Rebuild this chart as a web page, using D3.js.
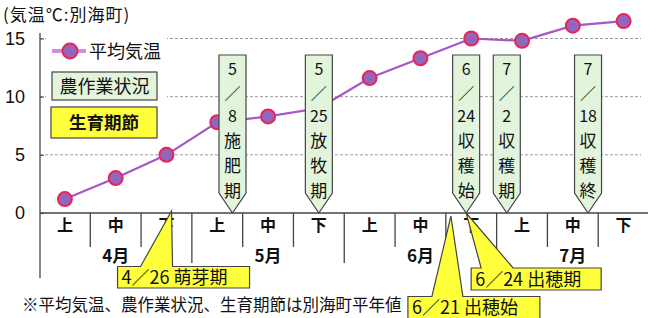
<!DOCTYPE html>
<html><head><meta charset="utf-8">
<script src="https://cdn.jsdelivr.net/npm/d3@7"></script>
<style>
html,body{margin:0;padding:0;background:#fff;}
svg{display:block;font-family:"Liberation Sans","Noto Sans CJK JP",sans-serif;}
.jp{font-family:"Noto Sans CJK JP","Liberation Sans",sans-serif;}
</style></head>
<body><svg id="c" width="648" height="318"></svg>
<script>
const months = ["4月","5月","6月","7月"];
const decades = ["上","中","下"];
const temps = [1.2, 3.0, 5.0, 7.8, 8.3, 9.0, 11.6, 13.3, 15.0, 14.8, 16.1, 16.5];
const yTicks = [0, 5, 10, 15];
const workDates = ["5/8", "5/25", "6/24", "7/2", "7/18"];
const workLabels = ["施肥期", "放牧期", "収穫始", "収穫期", "収穫終"];
const growthDates = ["4/26", "6/21", "6/24"];
const growthLabels = ["萌芽期", "出穂始", "出穂期"];

const cats = [];
months.forEach(m => decades.forEach(d => cats.push(m + d)));

const svg = d3.select("#c");
const x = d3.scaleBand().domain(cats).range([39.5, 649]).padding(0);
const y = d3.scaleLinear().domain([0, 15]).range([213, 38.5]);
const bw = x.bandwidth();

function dateX(s) {
  const [m, d] = s.split("/").map(Number);
  const di = d <= 10 ? 0 : (d <= 20 ? 1 : 2);
  const start = [1, 11, 21][di];
  return x(m + "月" + decades[di]) + (d - start + 1) / 10 * bw;
}

// gridlines
svg.append("g").selectAll("line").data(yTicks.filter(t => t > 0)).join("line")
  .attr("x1", 40).attr("x2", 641).attr("y1", d => y(d)).attr("y2", d => y(d))
  .attr("stroke", "#9a9a9a").attr("stroke-width", 1).attr("stroke-dasharray", "3,2");

// y axis
const ya = svg.append("g").attr("transform", "translate(40,0)")
  .call(d3.axisLeft(y).tickValues(yTicks).tickSize(-4).tickPadding(15));
ya.select(".domain").remove();
ya.selectAll(".tick line").attr("stroke", "#444");
ya.selectAll(".tick text").attr("font-size", 18).attr("fill", "#111")
  .attr("font-family", "Liberation Sans, sans-serif");
svg.append("line").attr("x1", 40).attr("x2", 40).attr("y1", 33).attr("y2", 278)
  .attr("stroke", "#444").attr("stroke-width", 1.3);

// x axis baseline
svg.append("line").attr("x1", 40).attr("x2", 648).attr("y1", y(0)).attr("y2", y(0))
  .attr("stroke", "#444").attr("stroke-width", 1.3);

// separators
const seps = cats.slice(1).map((c, i) => ({ x: x(c), month: (i + 1) % 3 === 0 }));
svg.append("g").selectAll("line").data(seps).join("line")
  .attr("x1", d => d.x).attr("x2", d => d.x)
  .attr("y1", y(0)).attr("y2", d => d.month ? 263 : 247)
  .attr("stroke", "#444").attr("stroke-width", 1.3);

// decade labels via axis
const xa = svg.append("g").attr("transform", `translate(0,${y(0)})`)
  .call(d3.axisBottom(x).tickSize(0).tickPadding(4).tickFormat(d => d.slice(-1)));
xa.select(".domain").remove();
xa.selectAll(".tick text").attr("class", "jp").attr("font-size", 16).attr("font-weight", "bold")
  .attr("fill", "#111").attr("dy", "0.9em");

// month labels
svg.append("g").selectAll("text").data(months).join("text")
  .attr("class", "jp")
  .attr("x", m => x(m + "中") + bw / 2).attr("y", 262)
  .attr("text-anchor", "middle").attr("font-size", 17).attr("font-weight", "bold")
  .attr("fill", "#111").text(m => m);

// line
const pts = cats.map((c, i) => [x(c) + bw / 2, y(temps[i])]);
svg.append("path").attr("d", d3.line()(pts)).attr("fill", "none")
  .attr("stroke", "#a557c8").attr("stroke-width", 2.2);
svg.append("g").selectAll("circle").data(pts).join("circle")
  .attr("cx", d => d[0]).attr("cy", d => d[1]).attr("r", 7)
  .attr("fill", "#9466bb").attr("stroke", "#e8245a").attr("stroke-width", 2);

// title
svg.append("text").attr("class", "jp").attr("x", 3).attr("y", 21)
  .attr("font-size", 17).attr("letter-spacing", 1).attr("fill", "#111").text("(気温℃:別海町)");

// legend
svg.append("rect").attr("x", 46).attr("y", 35).attr("width", 121).attr("height", 106).attr("fill", "#fff");
svg.append("line").attr("x1", 52).attr("x2", 86).attr("y1", 51).attr("y2", 51)
  .attr("stroke", "#cc8ede").attr("stroke-width", 4);
svg.append("circle").attr("cx", 70).attr("cy", 51).attr("r", 7.5)
  .attr("fill", "#9466bb").attr("stroke", "#e8245a").attr("stroke-width", 2);
svg.append("text").attr("class", "jp").attr("x", 89).attr("y", 58)
  .attr("font-size", 18).attr("fill", "#111").text("平均気温");
svg.append("rect").attr("x", 52).attr("y", 72).attr("width", 105).attr("height", 28)
  .attr("fill", "#e2f4dc").attr("stroke", "#444").attr("stroke-width", 1.2);
svg.append("text").attr("class", "jp").attr("x", 104.5).attr("y", 92.5).attr("text-anchor", "middle")
  .attr("font-size", 18).attr("fill", "#111").text("農作業状況");
svg.append("rect").attr("x", 51).attr("y", 107).attr("width", 106).attr("height", 31)
  .attr("fill", "#ffff3c").attr("stroke", "#444").attr("stroke-width", 1.2);
svg.append("text").attr("class", "jp").attr("x", 104).attr("y", 129).attr("text-anchor", "middle")
  .attr("font-size", 17.5).attr("font-weight", "bold").attr("fill", "#111").text("生育期節");

// green callouts (work)
const gw = 27, gTop = 55, gSide = 193;
const work = workDates.map((d, i) => ({ date: d, label: workLabels[i], x: dateX(d) }));
const gg = svg.append("g").selectAll("g").data(work).join("g");
gg.append("path").attr("d", d => `M${d.x - gw / 2},${gTop}H${d.x + gw / 2}V${gSide}L${d.x},${y(0)}L${d.x - gw / 2},${gSide}Z`)
  .attr("fill", "#e2f4dc").attr("stroke", "#444").attr("stroke-width", 1.2);
// stack lines without em-box overlap (ascent 1.16em, descent 0.29em)
const ASC = 1.16, DESC = 0.29;
const sizes = [16, 16, 16, 17, 17, 17];
const lineYs = [];
sizes.forEach((s, i) => {
  if (i === 0) lineYs.push(75);
  else lineYs.push(lineYs[i - 1] + sizes[i - 1] * DESC + s * ASC + 0.4);
});
gg.each(function (d) {
  const [m, dd] = d.date.split("/");
  const lines = [m, "／", dd].concat(d.label.split(""));
  d3.select(this).selectAll("text").data(lines).join("text")
    .attr("class", "jp").attr("text-anchor", "middle").attr("fill", "#111")
    .attr("x", d.x).attr("y", (t, i) => lineYs[i])
    .attr("font-size", (t, i) => sizes[i])
    .text(t => t);
});

// yellow callouts (growth)
const yGeo = [
  { bx: -54, bw: 132, by: 266.5, bh: 21.5, w1: -31, w2: 1, ty: 211 },
  { bx: -43, bw: 132, by: 296.5, bh: 24, w1: -19, w2: 12, ty: 216 },
  { bx: 5, bw: 130, by: 268, bh: 22, w1: 15, w2: 47, ty: 213 }
];
const growth = growthDates.map((d, i) => ({ date: d, label: growthLabels[i], x: dateX(d), g: yGeo[i] }));
const yg = svg.append("g").selectAll("g").data(growth).join("g");
yg.append("path").attr("d", d => {
  const g = d.g, L = d.x + g.bx, R = L + g.bw, T = g.by, B = g.by + g.bh;
  return `M${L},${T}H${d.x + g.w1}L${d.x},${g.ty}L${d.x + g.w2},${T}H${R}V${B}H${L}Z`;
}).attr("fill", "#ffff3c").attr("stroke", "#444").attr("stroke-width", 1.2);
yg.append("text").attr("class", "jp").attr("x", d => d.x + d.g.bx + 4).attr("y", d => d.g.by + 17.5)
  .attr("font-size", 18).attr("fill", "#111")
  .text(d => d.date.replace("/", "／") + " " + d.label);

// footnote
svg.append("text").attr("class", "jp").attr("x", 22).attr("y", 311)
  .attr("font-size", 16.5).attr("fill", "#111").text("※平均気温、農作業状況、生育期節は別海町平年値");
</script></body></html>
